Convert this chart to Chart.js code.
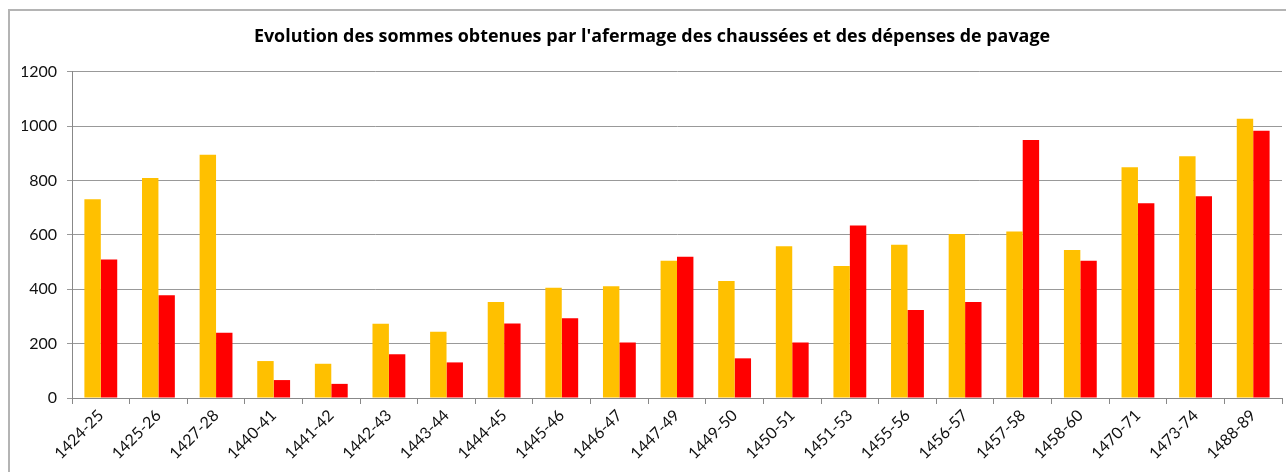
<!DOCTYPE html>
<html lang="fr">
<head>
    <meta charset="UTF-8">
    <title>Evolution des sommes</title>
    <script src="https://cdn.jsdelivr.net/npm/chart.js"></script>
    <style>
      body { margin: 0; background: #fff; overflow: hidden; }
      #frame { position: absolute; left: 8px; top: 9px; width: 1300px; height: 500px; border: 2px solid #b4b4b4; }
      #wrap { position: absolute; left: 0; top: 0; width: 1286px; height: 472px; }
    </style>
</head>
<body>
<div id="frame"></div>
<div id="wrap"><canvas id="chart"></canvas></div>

<script>
  // periodes (abscisse)
  const periodes = ['1424-25','1425-26','1427-28','1440-41','1441-42','1442-43','1443-44','1444-45',
    '1445-46','1446-47','1447-49','1449-50','1450-51','1451-53','1455-56','1456-57','1457-58',
    '1458-60','1470-71','1473-74','1488-89'];

  // sommes obtenues par l'afermage des chaussees
  const afermage = [732, 810, 895, 136, 126, 273, 244, 353, 406, 411, 505, 431, 559, 486, 564, 604, 613, 545, 849, 890, 1028];

  // depenses de pavage
  const pavage = [510, 378, 240, 66, 52, 161, 131, 274, 294, 204, 520, 146, 204, 635, 324, 353, 950, 505, 717, 743, 984];

  const yTicks = [0, 200, 400, 600, 800, 1000, 1200];

  const ctx = document.getElementById('chart').getContext('2d');
  new Chart(ctx, {
    type: 'bar',
    data: {
      labels: periodes,
      datasets: [
        { label: 'Afermage', data: afermage, backgroundColor: '#FFC000' },
        { label: 'Pavage', data: pavage, backgroundColor: '#FF0000' }
      ]
    },
    options: {
      responsive: true,
      maintainAspectRatio: false,
      animation: false,
      layout: { padding: { left: 22, right: 4, top: 0, bottom: 0 } },
      datasets: { bar: { categoryPercentage: 0.57, barPercentage: 1.0 } },
      plugins: {
        legend: { display: false },
        tooltip: { enabled: false },
        title: {
          display: true,
          text: "Evolution des sommes obtenues par l'afermage des chaussées et des dépenses de pavage",
          color: '#000',
          font: { family: 'Open Sans', size: 17.9, weight: 'bold', lineHeight: 1.2 },
          padding: { top: 26, bottom: 24.5 }
        }
      },
      scales: {
        x: {
          grid: { offset: true, drawOnChartArea: false, drawTicks: true, tickLength: 6, color: '#888' },
          border: { color: '#888' },
          ticks: {
            minRotation: 45, maxRotation: 45, color: '#111', padding: 2,
            font: { family: 'Lato', size: 16 }
          },
          afterFit: function(scale) { scale.height = 74; }
        },
        y: {
          min: 0, max: 1200,
          afterBuildTicks: function(scale) { scale.ticks = yTicks.map(v => ({ value: v })); },
          grid: { color: '#999', lineWidth: 1, tickLength: 5, drawTicks: true },
          border: { color: '#888' },
          ticks: {
            color: '#111', padding: 10, font: { family: 'Lato', size: 16 },
            callback: function(v) { return String(v); }
          },
          afterFit: function(scale) { scale.width = 50; }
        }
      }
    }
  });
</script>
</body>
</html>
